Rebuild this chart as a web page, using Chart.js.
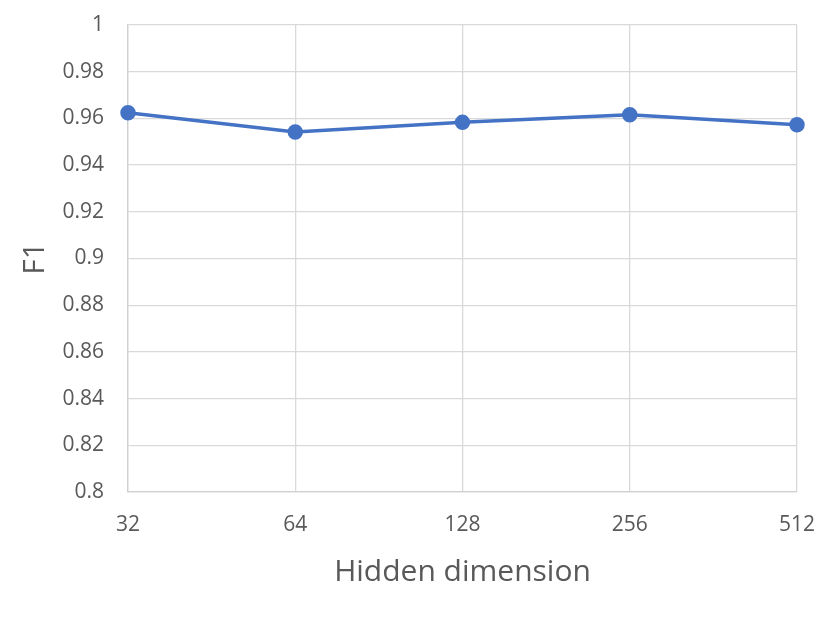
<!DOCTYPE html>
<html><head><meta charset="utf-8">
<script src="https://cdn.jsdelivr.net/npm/chart.js@4"></script>
<style>html,body{margin:0;padding:0;background:#fff}#wrap{width:830px;height:621px}</style>
</head><body><div id="wrap"><canvas id="c" width="830" height="621"></canvas></div>
<script>
const categories = ['32', '64', '128', '256', '512'];
const f1Values = [0.9624, 0.9542, 0.9583, 0.9616, 0.9573];
const yMin = 0.8, yMax = 1, yStep = 0.02;
const xTitle = 'Hidden dimension';
const yTitle = 'F1';

const FONT = "'Open Sans', sans-serif";
new Chart(document.getElementById('c'), {
  type: 'line',
  data: {
    labels: categories,
    datasets: [{
      data: f1Values,
      borderColor: '#4472C4',
      backgroundColor: '#4472C4',
      borderWidth: 3.5,
      pointRadius: 6,
      pointHoverRadius: 6,
      tension: 0
    }]
  },
  options: {
    responsive: false,
    animation: false,
    layout: { padding: { left: 0, right: 33, top: 25, bottom: 0 } },
    plugins: { legend: { display: false }, tooltip: { enabled: false } },
    scales: {
      x: {
        type: 'category',
        offset: false,
        grid: { color: '#d9d9d9', lineWidth: 1.3, drawTicks: true, tickLength: 19, tickColor: 'rgba(0,0,0,0)' },
        border: { color: '#d0d0d0', width: 1.3 },
        ticks: { color: '#595959', font: { family: FONT, size: 21 }, padding: 1, maxRotation: 0 },
        title: { display: true, text: xTitle, color: '#595959', font: { family: FONT, size: 30 }, padding: { top: 14, bottom: 31 } },
        afterFit: s => { s.height = 129; }
      },
      y: {
        min: yMin, max: yMax,
        grid: { color: '#d9d9d9', lineWidth: 1.3, drawTicks: true, tickLength: 22, tickColor: 'rgba(0,0,0,0)' },
        border: { color: '#d0d0d0', width: 1.3 },
        ticks: {
          stepSize: yStep, color: '#595959', font: { family: FONT, size: 21 }, padding: 2,
          callback: v => String(Number(v.toFixed(2)))
        },
        title: { display: true, text: yTitle, color: '#595959', font: { family: FONT, size: 30 }, padding: { top: 17, bottom: 0 } },
        afterFit: s => { s.width = 128; }
      }
    }
  }
});
</script></body></html>
